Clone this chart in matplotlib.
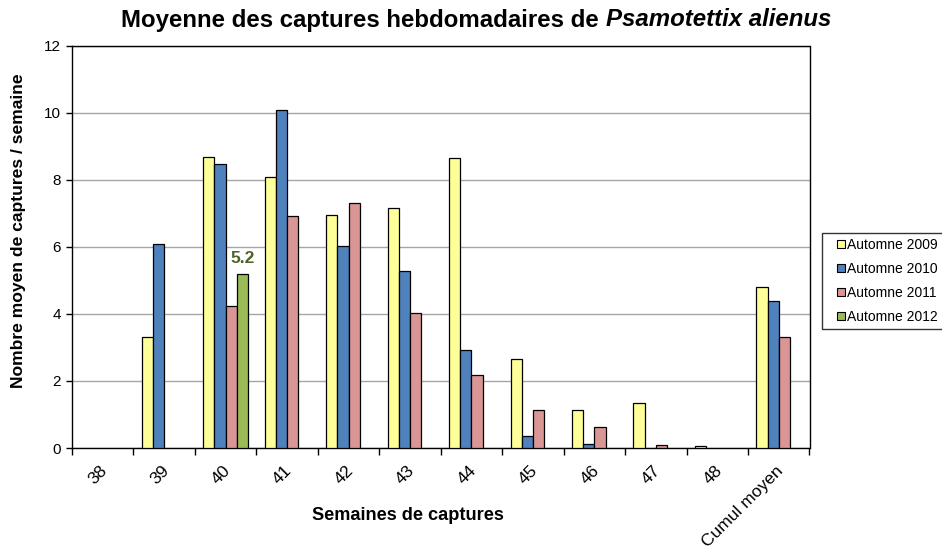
import numpy as np
import matplotlib
matplotlib.use("Agg")
import matplotlib.pyplot as plt
import matplotlib.transforms as mtransforms
from matplotlib.lines import Line2D

plt.rcParams['font.family'] = ['Liberation Sans', 'DejaVu Sans']

categories = ['38', '39', '40', '41', '42', '43', '44', '45', '46', '47', '48', 'Cumul moyen']
nan = np.nan
a2009 = [nan, 3.31, 8.67, 8.07, 6.96, 7.15, 8.65, 2.65, 1.14, 1.35, 0.07, 4.80]
a2010 = [nan, 6.07, 8.47, 10.09, 6.02, 5.27, 2.92, 0.35, 0.13, nan, nan, 4.37]
a2011 = [nan, nan, 4.23, 6.91, 7.29, 4.02, 2.19, 1.12, 0.63, 0.08, nan, 3.30]
a2012 = [nan, nan, 5.2, nan, nan, nan, nan, nan, nan, nan, nan, nan]
series_names = ['Automne 2009', 'Automne 2010', 'Automne 2011', 'Automne 2012']
colors = ['#FFFF99', '#4F81BD', '#D99694', '#9BBB59']

W, H = 942, 548
fig = plt.figure(figsize=(W / 100, H / 100), dpi=100)
ax = fig.add_axes([72/W, 1-448/H, (809.5-72)/W, (448-45.5)/H])

series = [a2009, a2010, a2011, a2012]
n = len(categories)
x = np.arange(n)
bw = 0.182
for i, (vals, c) in enumerate(zip(series, colors)):
    ax.bar(x + (i - 1.5) * bw, vals, width=bw, color=c, edgecolor='black', linewidth=0.9, zorder=3)

# data label
ax.text(x[2] + 1.5 * bw, a2012[2] + 0.22, '5.2', ha='center', va='bottom',
        fontsize=12.5, fontweight='bold', color='#4F6228', zorder=4)

ax.set_xlim(-0.5, n - 0.5)
ax.set_ylim(0, 12)
ax.set_yticks(np.arange(0, 13, 2))
ax.set_yticklabels([str(v) for v in range(0, 13, 2)], fontsize=11)
ax.yaxis.grid(True, color='#A6A6A6', linewidth=1, zorder=0)
ax.set_axisbelow(True)

ax.set_xticks(x)
ax.set_xticklabels(categories, rotation=45, ha='right', va='top', rotation_mode='anchor', fontsize=12.5)
ax.tick_params(axis='x', length=0, pad=11)
shift = mtransforms.ScaledTranslation(-3/100, 0, fig.dpi_scale_trans)
for lbl in ax.get_xticklabels():
    lbl.set_transform(lbl.get_transform() + shift)
ax.set_xticks(np.arange(-0.5, n, 1), minor=True)
ax.tick_params(axis='x', which='minor', length=5, direction='out', width=1)
ax.tick_params(axis='y', length=4, direction='out', width=1, pad=4)

for s in ax.spines.values():
    s.set_color('black')
    s.set_linewidth(1)

fig.text(407.5/W, 1 - 516/H, 'Semaines de captures', fontsize=13.1, fontweight='bold',
         ha='center', va='center')
fig.text(19/W, 1 - 231/H, 'Nombre moyen de captures / semaine', fontsize=12.6,
         fontweight='bold', ha='center', va='center', rotation=90)

# Title with italic part
fig.canvas.draw()
r = fig.canvas.get_renderer()
t1 = fig.text(0, 1 - 20/H, 'Moyenne des captures hebdomadaires de ', fontsize=17.3,
              fontweight='bold', ha='left', va='center')
t2 = fig.text(0, 1 - 20/H, 'Psamotettix alienus', fontsize=17.3, fontweight='bold',
              style='italic', ha='left', va='center')
w1 = t1.get_window_extent(r).width
w2 = t2.get_window_extent(r).width
cx = 476
start = cx - (w1 + w2) / 2
t1.set_x(start / W)
t2.set_x((start + w1) / W)

handles = [Line2D([], [], linestyle='none', marker='s', markersize=6.2,
                  markerfacecolor=c, markeredgecolor='black', markeredgewidth=0.8)
           for c in colors]
leg = fig.legend(handles, series_names, loc='upper left', bbox_to_anchor=(822/W, 1 - 233/H),
                 fontsize=10, frameon=True, fancybox=False, edgecolor='black',
                 handlelength=2.0, handletextpad=-0.55, borderpad=0.35,
                 labelspacing=0.73, borderaxespad=0, numpoints=1)
leg.get_frame().set_linewidth(1)

fig.savefig('out.png', dpi=100)
